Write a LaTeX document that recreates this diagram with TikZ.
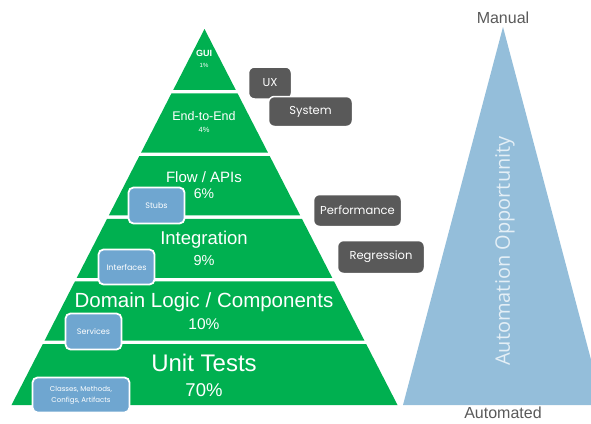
\documentclass[tikz,border=0pt]{standalone}
\usepackage{fontspec}
\setmainfont{Liberation Sans}
\newfontfamily\geofont{Poppins}
\newfontfamily\opfont{Open Sans}
\definecolor{pgreen}{HTML}{00B050}
\definecolor{pblue}{HTML}{94BEDA}
\definecolor{boxblue}{HTML}{6FA6D0}
\definecolor{dgray}{HTML}{595959}
\tikzset{
  layer/.style={fill=pgreen},
  lbl/.style={text=white, inner sep=0pt, anchor=center},
  graybox/.style={draw=white, line width=1.5pt, fill=dgray, rounded corners=6pt, text=white, inner sep=0pt, font=\geofont\fontsize{11.5}{13}\selectfont},
  bluebox/.style={draw=white, line width=1.8pt, fill=boxblue, rounded corners=5pt, text=white, inner sep=0pt, align=center, font=\geofont\fontsize{8}{10}\selectfont},
  endlbl/.style={text=dgray, inner sep=0pt, font=\fontsize{16}{18}\selectfont}
}
\begin{document}
\begin{tikzpicture}[x=1pt,y=-1pt]
\useasboundingbox (0,0) rectangle (591,423);
% automation triangle
\fill[pblue] (503,27) -- (603,405) -- (403,405) -- cycle;
\node[lbl, rotate=90, text=white!75!pblue, font=\opfont\fontsize{20}{22}\selectfont] (auto) at (505,251) {Automation Opportunity};
\node[endlbl] (manual) at (503,18) {Manual};
\node[endlbl] (automated) at (503,413) {Automated};
% pyramid layers
\foreach \t/\b in {29/89.9, 93.4/152.6, 156.1/215.3, 218.8/277.9, 281.4/340.6, 344.1/405}
  \fill[layer] ({204.5-(\t-29)*0.5133},\t) -- ({204.5+(\t-29)*0.5133},\t) -- ({204.5+(\b-29)*0.5133},\b) -- ({204.5-(\b-29)*0.5133},\b) -- cycle;
% labels
\node[lbl, font=\bfseries\fontsize{9}{10}\selectfont] (gui) at (204,53) {GUI};
\node[lbl, font=\fontsize{6}{7}\selectfont] (guip) at (204,65) {1\%};
\node[lbl, font=\fontsize{12.5}{14}\selectfont] (e2e) at (204,116) {End-to-End};
\node[lbl, font=\fontsize{7.5}{8}\selectfont] (e2ep) at (204,130) {4\%};
\node[lbl, font=\fontsize{15}{17}\selectfont] (flow) at (204,177) {Flow / APIs};
\node[lbl, font=\fontsize{14}{16}\selectfont] (flowp) at (204,194) {6\%};
\node[lbl, font=\fontsize{18.5}{20}\selectfont] (integ) at (204,240) {Integration};
\node[lbl, font=\fontsize{14.5}{16}\selectfont] (integp) at (204,261) {9\%};
\node[lbl, font=\fontsize{20.5}{22}\selectfont] (domain) at (204,302) {Domain Logic / Components};
\node[lbl, font=\fontsize{15.5}{17}\selectfont] (domainp) at (204,324) {10\%};
\node[lbl, font=\fontsize{24}{26}\selectfont] (unit) at (204,363) {Unit Tests};
\node[lbl, font=\fontsize{18.5}{20}\selectfont] (unitp) at (204,390) {70\%};
% gray boxes
\node[graybox, minimum width=43pt, minimum height=32pt] (ux) at (270,83) {UX};
\node[graybox, minimum width=84pt, minimum height=30pt] (system) at (310.5,111.5) {System};
\node[graybox, minimum width=88pt, minimum height=32pt] (perf) at (357.5,210.5) {Performance};
\node[graybox, minimum width=87pt, minimum height=33pt] (regr) at (381,257) {Regression};
% blue boxes
\node[bluebox, minimum width=56pt, minimum height=36pt] (stubs) at (156.5,205.5) {Stubs};
\node[bluebox, minimum width=56pt, minimum height=35pt] (interf) at (126.5,267) {Interfaces};
\node[bluebox, minimum width=56pt, minimum height=36pt] (serv) at (93.5,331.5) {Services};
\node[bluebox, minimum width=97pt, minimum height=35pt, font=\geofont\fontsize{7}{11}\selectfont] (classes) at (81,395) {Classes, Methods,\\Configs, Artifacts};
\end{tikzpicture}
\end{document}
